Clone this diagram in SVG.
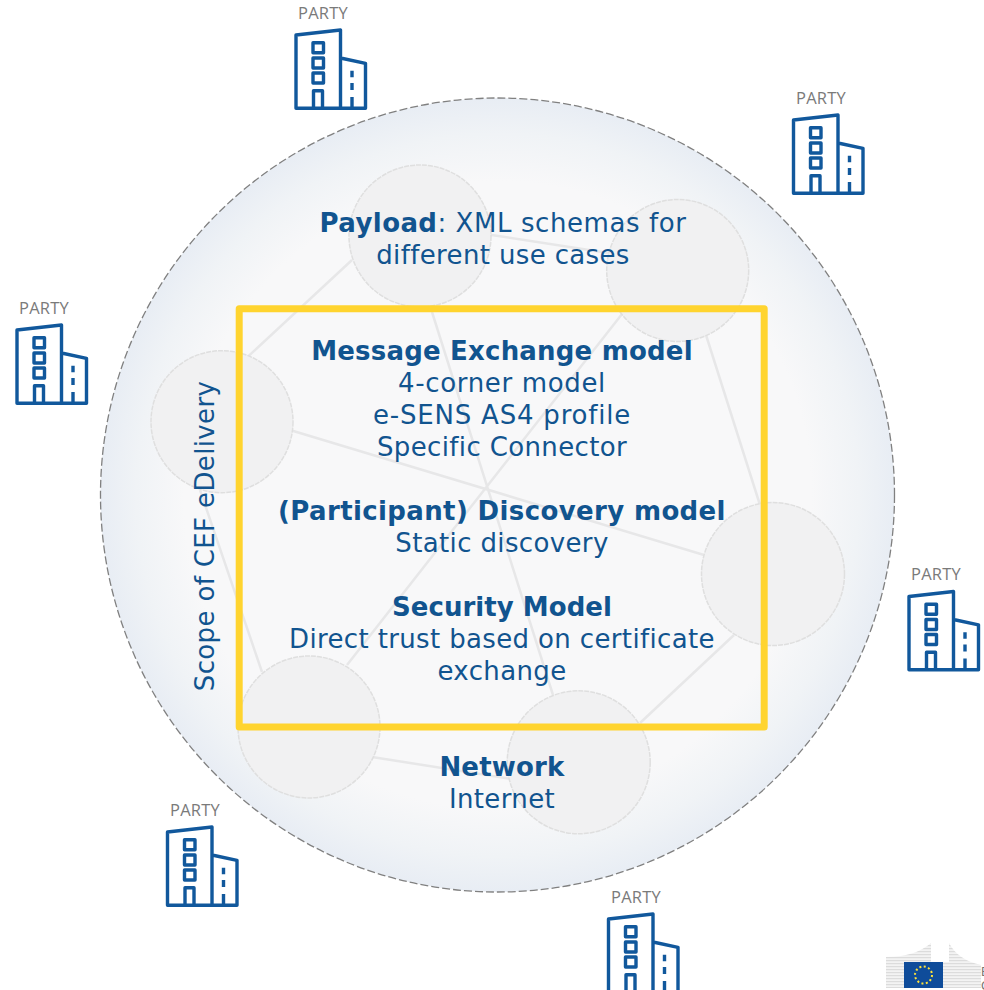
<svg xmlns="http://www.w3.org/2000/svg" width="984" height="990" viewBox="0 0 984 990">
<style>
.t{font-family:"DejaVu Sans",Verdana,sans-serif;font-size:26px;fill:#11548f;text-anchor:middle;letter-spacing:.36px}
.b{font-weight:bold;letter-spacing:.2px}
.p{font-family:"Open Sans","Noto Sans",sans-serif;font-size:16.500px;fill:#7a7a7a;letter-spacing:.2px}
.ic{fill:none;stroke:#11589c;stroke-width:3.400;stroke-linejoin:round}
.n{fill:#f1f1f2;stroke:#dfdfdf;stroke-width:1.500;stroke-dasharray:5 1}
.c{stroke:#e7e7e8;stroke-width:2.500;fill:none}
</style>
<defs>
<radialGradient id="g" cx="50%" cy="50%" r="50%">
<stop offset="0" stop-color="#f8f8f9"/><stop offset="0.79" stop-color="#f8f8f9"/><stop offset="0.91" stop-color="#f0f3f6"/><stop offset="1" stop-color="#e8edf4"/>
</radialGradient>
<pattern id="st" width="4" height="3" patternUnits="userSpaceOnUse"><rect width="4" height="3" fill="#f3f3f3"/><rect width="4" height="1.200" fill="#dcdcdc"/></pattern>
<g id="bld">
<path class="ic" d="M0 0L44.500-5V73.300H0ZM44.500 23L69.500 28.300V73.300H44.500"/>
<rect class="ic" x="17" y="7.700" width="10.500" height="10"/>
<rect class="ic" x="17" y="23" width="10.500" height="10"/>
<rect class="ic" x="17" y="38" width="10.500" height="10"/>
<path class="ic" d="M17.500 73V55.700H26.500V73"/>
<path class="ic" d="M56 35.700V42.300M56 48V55M56 62V73"/>
</g>
</defs>
<rect width="984" height="990" fill="#ffffff"/>
<circle cx="497.500" cy="495" r="397" fill="url(#g)" stroke="#808080" stroke-width="1.300" stroke-dasharray="8 3"/>
<g id="connectors">
<path class="c" d="M485 234L615 254M352 260L240 364M706 335L760 505M200 490L262 672M734 635L640 723M372 757L512 779M432 312L553 695M622 314L347 665M290 430L704 555"/>
</g>
<g id="node-1"><circle class="n" cx="420" cy="236" r="71"/></g>
<g id="node-2"><circle class="n" cx="677.700" cy="270.500" r="71"/></g>
<g id="node-3"><circle class="n" cx="222" cy="421.700" r="71"/></g>
<g id="node-4"><circle class="n" cx="773" cy="574" r="71.500"/></g>
<g id="node-5"><circle class="n" cx="309" cy="727" r="71"/></g>
<g id="node-6"><circle class="n" cx="578.700" cy="762.300" r="71.500"/></g>
<g id="scope-box"><rect x="239.200" y="308.700" width="525" height="418.300" fill="none" stroke="#ffd42f" stroke-width="7" stroke-linejoin="round"/></g>
<g id="payload"><text class="t" x="503" y="232" style="letter-spacing:.58px"><tspan class="b" style="letter-spacing:.4px">Payload</tspan>: XML schemas for</text><text class="t" x="503" y="264">different use cases</text></g>
<g id="message"><text class="t b" x="502" y="360">Message Exchange model</text><text class="t" x="502" y="392" style="letter-spacing:.65px">4-corner model</text><text class="t" x="502" y="424" style="letter-spacing:.8px">e-SENS AS4 profile</text><text class="t" x="502" y="456">Specific Connector</text></g>
<g id="discovery"><text class="t b" x="502" y="520" style="letter-spacing:.37px">(Participant) Discovery model</text><text class="t" x="502" y="552">Static discovery</text></g>
<g id="security"><text class="t b" x="502" y="616" style="letter-spacing:.05px">Security Model</text><text class="t" x="502" y="648">Direct trust based on certificate</text><text class="t" x="502" y="680">exchange</text></g>
<g id="network"><text class="t b" x="502" y="776">Network</text><text class="t" x="502" y="808">Internet</text></g>
<g id="scope-label"><text class="t" transform="translate(214 536) rotate(-90)">Scope of CEF eDelivery</text></g>
<g id="party-1"><text class="p" x="298" y="19">PARTY</text><use href="#bld" x="296" y="35"/></g>
<g id="party-2"><text class="p" x="796" y="104">PARTY</text><use href="#bld" x="793.500" y="120"/></g>
<g id="party-3"><text class="p" x="19" y="314">PARTY</text><use href="#bld" x="17" y="330"/></g>
<g id="party-4"><text class="p" x="911" y="580">PARTY</text><use href="#bld" x="909" y="596.500"/></g>
<g id="party-5"><text class="p" x="170" y="816">PARTY</text><use href="#bld" x="167.500" y="832"/></g>
<g id="party-6"><text class="p" x="611" y="903">PARTY</text><use href="#bld" x="608.500" y="919"/></g>
<g id="logo">
<path d="M886 957Q915 957 931 943V962H904V988H886Z" fill="url(#st)"/>
<path d="M949 943Q958 960 981 965V988H943V962H949Z" fill="url(#st)"/>
<rect x="904" y="962" width="39" height="26" fill="#0f4c9a"/>
<circle cx="923.500" cy="975" r="8.500" fill="none" stroke="#ffe23a" stroke-width="2" stroke-dasharray="2 2.450"/>
<text x="981" y="976" font-family="Liberation Sans,sans-serif" font-size="13" fill="#777">E</text>
<text x="981" y="990" font-family="Liberation Sans,sans-serif" font-size="13" fill="#777">C</text>
</g>
</svg>
